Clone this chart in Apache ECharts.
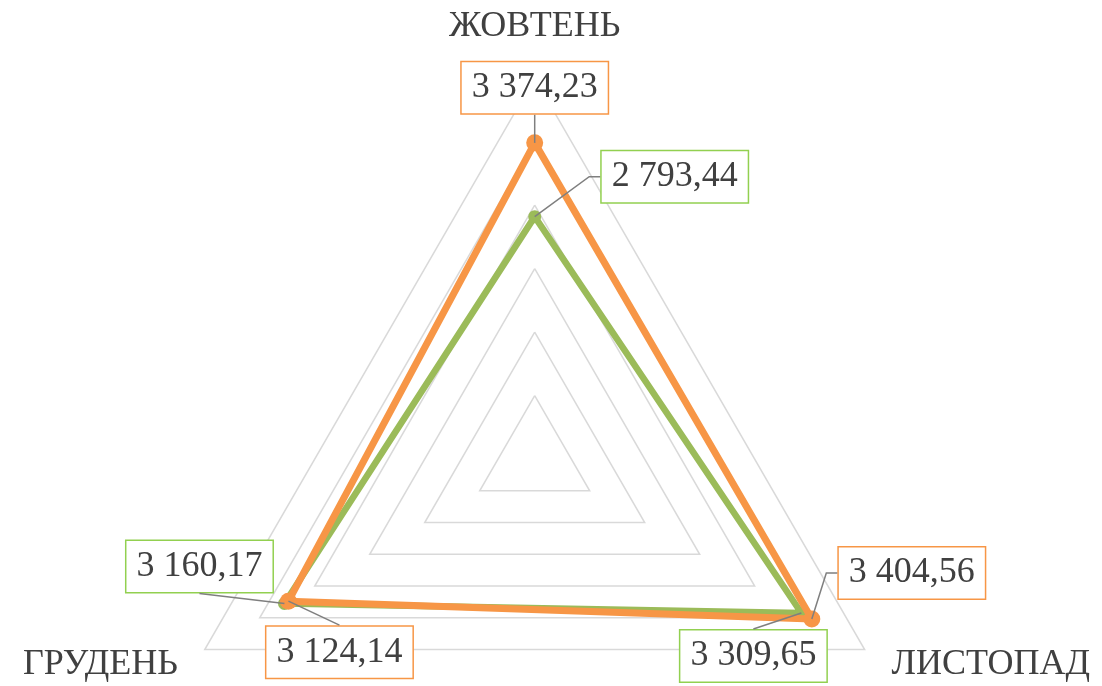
<!DOCTYPE html>
<html>
<head>
<meta charset="utf-8">
<script src="https://cdn.jsdelivr.net/npm/echarts@6/dist/echarts.min.js"></script>
<style>
    html, body { margin: 0; padding: 0; background: #fff; }
    #chart { width: 1102px; height: 686px; }
</style>
</head>
<body>
<div id="chart"></div>
<script>
    // місяці (в порядку малювання: верх, лівий низ, правий низ)
    const months = ['ЖОВТЕНЬ', 'ГРУДЕНЬ', 'ЛИСТОПАД'];
    const seriesNames = ['Ряд 1', 'Ряд 2'];
    const greenValues = [2793.44, 3160.17, 3309.65];
    const orangeValues = [3374.23, 3124.14, 3404.56];
    const axisMin = 885;
    const axisMax = 3885;

    const cx = 534.7, cy = 459;

    // зсув підпису відносно маркера: [верх, лівий низ, правий низ]
    const labelOffsets = [
        [[140, -40], [-85, -37], [-48, 43]],
        [[0, -55], [51, 51], [100, -46]]
    ];
    // куди йде виносна лінія до рамки підпису
    const leaderSides = [
        ['elbow', 'bottom', 'top'],
        ['bottom', 'top', 'elbow']
    ];

    const markers = [[], []];

    function fmt(v) {
        const parts = Number(v).toFixed(2).split('.');
        return parts[0].replace(/\B(?=(\d{3})+(?!\d))/g, ' ') + ',' + parts[1];
    }

    function vertexIndex(x, y) {
        const dx = x - cx, dy = y - cy;
        if (dy < 0 && Math.abs(dx) < Math.abs(dy)) return 0;
        return dx < 0 ? 1 : 2;
    }

    function makeLayout(s) {
        return function (p) {
            const mx = p.rect.x + p.rect.width / 2;
            const my = p.rect.y + p.rect.height / 2;
            const v = vertexIndex(mx, my);
            const o = labelOffsets[s][v];
            markers[s][v] = {
                mx: mx, my: my,
                bx: mx + o[0], by: my + o[1],
                w: p.labelRect.width, h: p.labelRect.height
            };
            return {x: mx + o[0], y: my + o[1], align: 'center', verticalAlign: 'middle'};
        };
    }

    const myChart = echarts.init(document.getElementById('chart'), null, {renderer: 'canvas'});

    const labelBase = {
        show: true,
        position: 'inside',
        fontFamily: 'Liberation Serif',
        fontSize: 36,
        color: '#404040',
        backgroundColor: '#fff',
        borderWidth: 1.5,
        padding: [8, 10, 7, 10],
        formatter: function (p) {
            return fmt(p.value);
        }
    };

    const option = {
        animation: false,
        backgroundColor: '#fff',
        radar: {
            center: [cx, cy],
            radius: 381,
            startAngle: 90,
            shape: 'polygon',
            splitNumber: 6,
            axisNameGap: 31,
            indicator: months.map(function (m) {
                return {name: m, min: axisMin, max: axisMax};
            }),
            axisName: {
                color: '#404040',
                fontFamily: 'Liberation Serif',
                fontSize: 36,
                verticalAlign: 'middle',
                formatter: function (name) {
                    return name === months[0] ? '{top|' + name + '}' : '{side|' + name + '}';
                },
                rich: {
                    top: {fontSize: 36, fontFamily: 'Liberation Serif', color: '#404040', padding: [0, 0, 40, 0]},
                    side: {fontSize: 36, fontFamily: 'Liberation Serif', color: '#404040'}
                }
            },
            axisLine: {show: false},
            axisTick: {show: false},
            axisLabel: {show: false},
            splitArea: {show: false},
            splitLine: {
                lineStyle: {color: '#d9d9d9', width: 1.5}
            }
        },
        series: [
            {
                name: seriesNames[0],
                type: 'radar',
                z: 2,
                symbol: 'circle',
                symbolSize: 13,
                lineStyle: {color: '#9BBB59', width: 6.5},
                itemStyle: {color: '#9BBB59'},
                label: Object.assign({}, labelBase, {borderColor: '#92D050'}),
                labelLayout: makeLayout(0),
                data: [{value: greenValues, name: seriesNames[0]}]
            },
            {
                name: seriesNames[1],
                type: 'radar',
                z: 3,
                symbol: 'circle',
                symbolSize: 17,
                lineStyle: {color: '#F79646', width: 7},
                itemStyle: {color: '#F79646'},
                label: Object.assign({}, labelBase, {borderColor: '#F79646'}),
                labelLayout: makeLayout(1),
                data: [{value: orangeValues, name: seriesNames[1]}]
            }
        ]
    };

    myChart.setOption(option);

    // виносні лінії від маркерів до рамок підписів
    const leaders = [];
    markers.forEach(function (list, s) {
        list.forEach(function (m, v) {
            if (!m) return;
            const side = leaderSides[s][v];
            let pts;
            if (side === 'elbow') {
                const left = m.bx - m.w / 2;
                pts = [[m.mx, m.my], [left - 11, m.by], [left, m.by]];
            } else if (side === 'bottom') {
                pts = [[m.mx, m.my], [m.bx, m.by + m.h / 2]];
            } else {
                pts = [[m.mx, m.my], [m.bx, m.by - m.h / 2]];
            }
            leaders.push({
                type: 'polyline',
                z: 100,
                silent: true,
                shape: {points: pts},
                style: {stroke: '#7f7f7f', lineWidth: 1.5, fill: null}
            });
        });
    });
    myChart.setOption({graphic: leaders});
</script>
</body>
</html>
